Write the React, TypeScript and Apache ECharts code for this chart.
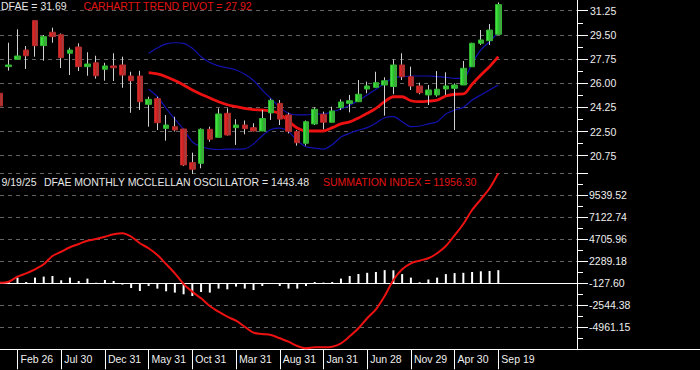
import React, { useEffect, useRef } from "react";
import * as echarts from "echarts";

// ---- categories (monthly bars, Dec 2020 .. Sep 2025) ----
const months = [
  "2020-12",
  "2021-01", "2021-02", "2021-03", "2021-04", "2021-05", "2021-06", "2021-07", "2021-08", "2021-09", "2021-10", "2021-11", "2021-12",
  "2022-01", "2022-02", "2022-03", "2022-04", "2022-05", "2022-06", "2022-07", "2022-08", "2022-09", "2022-10", "2022-11", "2022-12",
  "2023-01", "2023-02", "2023-03", "2023-04", "2023-05", "2023-06", "2023-07", "2023-08", "2023-09", "2023-10", "2023-11", "2023-12",
  "2024-01", "2024-02", "2024-03", "2024-04", "2024-05", "2024-06", "2024-07", "2024-08", "2024-09", "2024-10", "2024-11", "2024-12",
  "2025-01", "2025-02", "2025-03", "2025-04", "2025-05", "2025-06", "2025-07", "2025-08", "2025-09",
];
// empty slots on the right side of the chart
const futureMonths = ["2025-10", "2025-11", "2025-12", "2026-01", "2026-02", "2026-03", "2026-04", "2026-05", "2026-06"];

const xTickMonths = ["2021-02", "2021-07", "2021-12", "2022-05", "2022-10", "2023-03", "2023-08", "2024-01", "2024-06", "2024-11", "2025-04", "2025-09"];
const xTickLabels = ["Feb 26", "Jul 30", "Dec 31", "May 31", "Oct 31", "Mar 31", "Aug 31", "Jan 31", "Jun 28", "Nov 29", "Apr 30", "Sep 19"];

// ---- price (DFAE monthly) ----
const open = [25.27, 27.2, 27.73, 28.4, 30.53, 28.72, 29.69, 29.51, 28.17, 28.62,
  27.2, 27.48, 27.01, 27.25, 27.32, 26.52, 26.52, 24.47, 24.88, 22.73,
  22.85, 22.68, 20.25, 20.2, 22.66, 22.08, 23.82, 22.78, 22.97, 22.78,
  22.54, 23.85, 24.54, 23.7, 22.49, 21.65, 23.05, 23.75, 23.17, 24.23,
  24.54, 24.66, 25.58, 25.7, 25.87, 25.76, 27.32, 26.47, 25.8, 25.15,
  25.15, 25.58, 25.63, 25.87, 27.19, 28.89, 29.08, 29.54];
const close = [24.35, 27.32, 27.97, 27.99, 28.72, 29.37, 29.37, 27.85, 28.4, 27.2,
  27.39, 26.54, 27.25, 27.12, 26.59, 26.18, 24.66, 24.83, 23.14, 22.97,
  22.61, 20.08, 19.77, 22.66, 21.94, 23.77, 22.25, 22.97, 22.71, 22.54,
  23.44, 24.76, 23.4, 22.52, 21.69, 23.21, 24.11, 23.17, 23.99, 24.64,
  24.73, 25.2, 25.8, 26.04, 26.18, 27.32, 26.47, 25.8, 25.31, 25.51,
  25.56, 25.8, 25.87, 27.08, 28.89, 29.13, 29.85, 31.69];
const high = [26.96, 28.93, 29.9, 28.69, 30.55, 29.49, 30.02, 29.6, 28.57, 28.89,
  28.24, 27.99, 27.48, 28.17, 27.92, 26.83, 26.9, 25.02, 25.02, 23.7,
  23.57, 22.7, 20.97, 22.73, 22.85, 24.18, 24.18, 23.39, 23.3, 23.1,
  24.06, 24.88, 24.78, 23.86, 22.6, 23.3, 24.25, 23.94, 24.3, 24.83,
  25.15, 26.23, 26.11, 26.83, 26.43, 27.73, 28.17, 27.2, 26.04, 25.87,
  26.88, 26.79, 25.99, 27.61, 28.93, 29.85, 30.29, 31.85];
const low = [24.2, 26.91, 27.7, 27.03, 27.92, 27.63, 28.93, 27.1, 26.59, 26.88,
  26.54, 26.33, 26.18, 26.16, 25.67, 23.86, 24.06, 22.85, 22.61, 21.84,
  22.5, 20.0, 19.43, 19.84, 21.76, 22.08, 22.2, 21.53, 22.3, 22.5,
  22.54, 23.34, 22.97, 22.37, 21.48, 21.48, 22.97, 22.66, 23.17, 24.06,
  23.89, 24.66, 25.27, 25.7, 23.65, 25.2, 26.23, 25.51, 25.2, 24.42,
  25.02, 25.15, 22.61, 25.87, 27.19, 28.77, 28.77, 29.5];

// ---- overlays start at bar 17 (May 2022) ----
const overlayStart = 17;
const trendPivot = [26.76, 26.67, 26.47, 26.2, 25.87, 25.51, 25.2, 24.93, 24.66, 24.44,
  24.3, 24.18, 24.09, 24.06, 23.99, 23.78, 23.25, 22.75, 22.54, 22.54,
  22.54, 22.78, 23.05, 23.2, 23.48, 23.82, 24.18, 24.66, 25.02, 25.02,
  24.73, 24.66, 24.7, 24.78, 25.07, 25.2, 25.22, 25.92, 26.59, 27.2,
  27.92];
const upperBand = [28.17, 28.55, 28.85, 28.93, 28.89, 28.53, 27.92, 27.5, 27.25, 27.12,
  26.96, 26.65, 26.2, 25.5, 24.88, 24.25, 23.82, 23.7, 23.7, 23.77,
  23.77, 23.94, 24.13, 24.4, 24.77, 25.15, 25.56, 25.99, 26.4, 26.47,
  26.52, 26.52, 26.52, 26.47, 26.43, 26.35, 26.35, 27.44, 28.42, 29.0,
  29.7];
const lowerBand = [25.56, 25.02, 24.18, 23.4, 22.66, 21.76, 21.4, 21.25, 21.2, 21.23,
  21.23, 21.25, 21.6, 22.2, 22.65, 22.75, 22.5, 21.85, 21.4, 21.3,
  21.23, 21.55, 22.1, 22.38, 22.6, 22.78, 23.12, 23.5, 23.58, 23.21,
  22.85, 22.9, 23.05, 23.21, 23.77, 24.06, 24.25, 24.78, 25.15, 25.51,
  25.87];

// ---- McClellan oscillator (histogram) and summation index ----
const oscillator = [120, 200, 626, 143, 626, 736, 802, 330, 626, 253,
  516, 60, 363, 253, -143, -516, -846, -297, -582, -879,
  -1022, -1208, -1395, -956, -1022, -582, -659, -363, -582, -736,
  -297, -77, -297, -582, -582, -297, 143, 77, 143, 516,
  802, 1022, 1153, 1241, 1450, 1428, 1011, 626, 110, 417,
  626, 1011, 1120, 1153, 1241, 1318, 1351, 1443.48];
const summation = [-60, 50, 600, 970, 1410, 1960, 2870, 3340, 3830, 4190,
  4550, 4740, 4990, 5250, 5370, 5000, 4270, 3720, 2980, 1990,
  970, -200, -1050, -1780, -2620, -3250, -3800, -4240, -4900, -5550,
  -5700, -5810, -6170, -6540, -7020, -7270, -7160, -7160, -7090, -6720,
  -5950, -5070, -3970, -2980, -1520, 240, 1410, 2070, 2360, 2620,
  3170, 3970, 5150, 6390, 7920, 9100, 10310, 11956.3];

// ---- axis ticks ----
const priceMin = 20.75;
const priceMax = 31.25;
const priceStep = 1.75;
const sumMin = -7377.94;
const sumMax = 11956.3;
const sumStep = 2416.78;
const sumTickLabels = ["-4961.15", "-2544.38", "-127.60", "2289.18", "4705.96", "7122.74", "9539.52"];
const oscZeroAt = -127.6; // oscillator zero drawn at this summation level

const FONT = '"Liberation Sans", Arial, Helvetica, sans-serif';
const GRID_COLOR = "#646464";
const BAND_COLOR = "#1212b0";

export default function App() {
  const ref = useRef<HTMLDivElement>(null);

  useEffect(() => {
    if (!ref.current) return;
    const chart = echarts.init(ref.current, null, { renderer: "svg" });

    const categories = [...months, ...futureMonths];
    const pad = (vals: number[]) => [...months.slice(0, overlayStart).map(() => null), ...vals];
    const wicks = months.map((_, i) => [open[i], close[i], low[i], high[i]]);
    const bodies = months.map((_, i) => [open[i], close[i], Math.min(open[i], close[i]), Math.max(open[i], close[i])]);
    const tickInterval = (_: number, value: string) => xTickMonths.includes(value);

    const greenGrad = new echarts.graphic.LinearGradient(0, 0, 1, 0, [
      { offset: 0, color: "#5cf05c" },
      { offset: 0.45, color: "#22c822" },
      { offset: 1, color: "#5a8a5a" },
    ]);
    const redGrad = new echarts.graphic.LinearGradient(0, 0, 1, 0, [
      { offset: 0, color: "#f03030" },
      { offset: 0.45, color: "#c81e1e" },
      { offset: 1, color: "#8a5050" },
    ]);

    const option: any = {
      backgroundColor: "#000",
      animation: false,
      grid: [
        { left: 0, right: 123, top: 10.7, height: 145, outerBoundsMode: "none" },
        { left: 0, right: 123, top: 173.3, height: 176, outerBoundsMode: "none" },
        { left: 0, right: 0, top: 0, height: 349.3, outerBoundsMode: "none" },
        { left: 0, right: 123, top: 0, height: 349.3, outerBoundsMode: "none" },
      ],
      xAxis: [
        { type: "category", gridIndex: 0, data: categories, boundaryGap: false, show: false },
        {
          type: "category", gridIndex: 1, data: categories, boundaryGap: false,
          axisLine: { show: true, onZero: false, lineStyle: { color: "#fff", width: 1 } },
          axisTick: { show: true, length: 20, interval: tickInterval, lineStyle: { color: "#fff" } },
          axisLabel: {
            show: true, interval: tickInterval, align: "left", margin: 4, padding: [0, 0, 0, 3],
            color: "#eee", fontSize: 10.5, fontFamily: FONT,
            formatter: (v: string) => { const k = xTickMonths.indexOf(v); return k >= 0 ? xTickLabels[k] : ""; },
          },
          splitLine: { show: false },
        },
        {
          type: "value", gridIndex: 2, min: 0, max: 1,
          axisLine: { show: true, onZero: false, lineStyle: { color: "#fff" } },
          axisTick: { show: false }, axisLabel: { show: false }, splitLine: { show: false },
        },
        { type: "value", gridIndex: 3, min: 0, max: 1, show: false },
      ],
      yAxis: [
        {
          type: "value", gridIndex: 0, position: "right", min: priceMin, max: priceMax, interval: priceStep,
          axisLine: { show: false, onZero: false },
          axisTick: { show: true, length: 11, lineStyle: { color: "#fff" } },
          minorTick: { show: true, splitNumber: 2, length: 6, lineStyle: { color: "#fff" } },
          axisLabel: { color: "#eee", fontSize: 10.5, fontFamily: FONT, margin: 13, formatter: (v: number) => v.toFixed(2) },
          splitLine: { show: true, lineStyle: { color: GRID_COLOR, type: [4, 4], width: 1 } },
        },
        {
          type: "value", gridIndex: 1, position: "right", min: sumMin, max: sumMax, interval: sumStep,
          axisLine: { show: false, onZero: false },
          axisTick: { show: true, length: 11, lineStyle: { color: "#fff" } },
          minorTick: { show: true, splitNumber: 2, length: 6, lineStyle: { color: "#fff" } },
          axisLabel: {
            color: "#eee", fontSize: 10.5, fontFamily: FONT, margin: 12,
            showMinLabel: false, showMaxLabel: false,
            formatter: (v: number) => {
              const t = sumTickLabels.find((s) => Math.abs(parseFloat(s) - v) < 0.5);
              return t ?? "";
            },
          },
          splitLine: { show: true, lineStyle: { color: GRID_COLOR, type: [4, 4], width: 1 } },
        },
        {
          type: "value", gridIndex: 1, position: "right", show: false,
          min: sumMin - oscZeroAt, max: sumMax - oscZeroAt,
        },
        { type: "value", gridIndex: 2, min: 0, max: 1, show: false },
        {
          type: "value", gridIndex: 3, position: "right", min: 0, max: 1,
          axisLine: { show: true, onZero: false, lineStyle: { color: "#fff" } },
          axisTick: { show: false }, axisLabel: { show: false }, splitLine: { show: false },
        },
      ],
      series: [
        {
          type: "line", xAxisIndex: 0, yAxisIndex: 0, data: pad(upperBand), symbol: "none", smooth: 0.3,
          lineStyle: { color: BAND_COLOR, width: 1.2 }, z: 2, clip: false, silent: true,
        },
        {
          type: "line", xAxisIndex: 0, yAxisIndex: 0, data: pad(lowerBand), symbol: "none", smooth: 0.3,
          lineStyle: { color: BAND_COLOR, width: 1.2 }, z: 2, clip: false, silent: true,
        },
        {
          type: "line", xAxisIndex: 0, yAxisIndex: 0, data: pad(trendPivot), symbol: "none", smooth: 0.3,
          lineStyle: { color: "#ee1111", width: 2.8 }, z: 3, clip: false, silent: true,
        },
        {
          type: "candlestick", xAxisIndex: 0, yAxisIndex: 0, data: wicks, barWidth: 1, clip: false, silent: true,
          itemStyle: { color: "#d0d0d0", color0: "#d0d0d0", borderColor: "#d0d0d0", borderColor0: "#d0d0d0", borderWidth: 1 },
          z: 4,
        },
        {
          type: "candlestick", xAxisIndex: 0, yAxisIndex: 0, data: bodies, barWidth: 6, clip: false, silent: true,
          itemStyle: { color: greenGrad, color0: redGrad, borderColor: "#2fb52f", borderColor0: "#b52828", borderWidth: 1 },
          z: 5,
        },
        {
          type: "bar", xAxisIndex: 1, yAxisIndex: 2, data: oscillator, barWidth: 2, silent: true,
          itemStyle: { color: "#fff" }, z: 3,
          markLine: {
            silent: true, symbol: ["none", "none"], label: { show: false },
            lineStyle: { color: "#fff", type: "solid", width: 1 },
            data: [{ yAxis: 0 }],
          },
        },
        {
          type: "line", xAxisIndex: 1, yAxisIndex: 1, data: summation, symbol: "none", smooth: 0.3,
          lineStyle: { color: "#ee1111", width: 2 }, z: 6, clip: false, silent: true,
        },
      ],
      graphic: [
        { type: "text", x: 1, y: 6, style: { text: "DFAE = " + close[close.length - 1].toFixed(2), fill: "#e6e6e6", font: `10.5px ${FONT}`, verticalAlign: "middle" } },
        { type: "text", x: 83.5, y: 6, style: { text: "CARHARTT TREND PIVOT = " + trendPivot[trendPivot.length - 1].toFixed(2), fill: "#e01414", font: `10.5px ${FONT}`, verticalAlign: "middle" } },
        { type: "text", x: 1.5, y: 181.7, style: { text: "9/19/25", fill: "#e6e6e6", font: `10.5px ${FONT}`, verticalAlign: "middle" } },
        { type: "text", x: 44, y: 181.7, style: { text: "DFAE MONTHLY MCCLELLAN OSCILLATOR = " + oscillator[oscillator.length - 1].toFixed(2), fill: "#e6e6e6", font: `10.5px ${FONT}`, verticalAlign: "middle" } },
        { type: "text", x: 323, y: 181.7, style: { text: "SUMMATION INDEX = " + summation[summation.length - 1].toFixed(2), fill: "#e01414", font: `10.5px ${FONT}`, verticalAlign: "middle" } },
      ],
    };

    chart.setOption(option);
    return () => chart.dispose();
  }, []);

  return <div ref={ref} style={{ position: "absolute", left: 0, top: 0, width: 700, height: 370 }} />;
}
